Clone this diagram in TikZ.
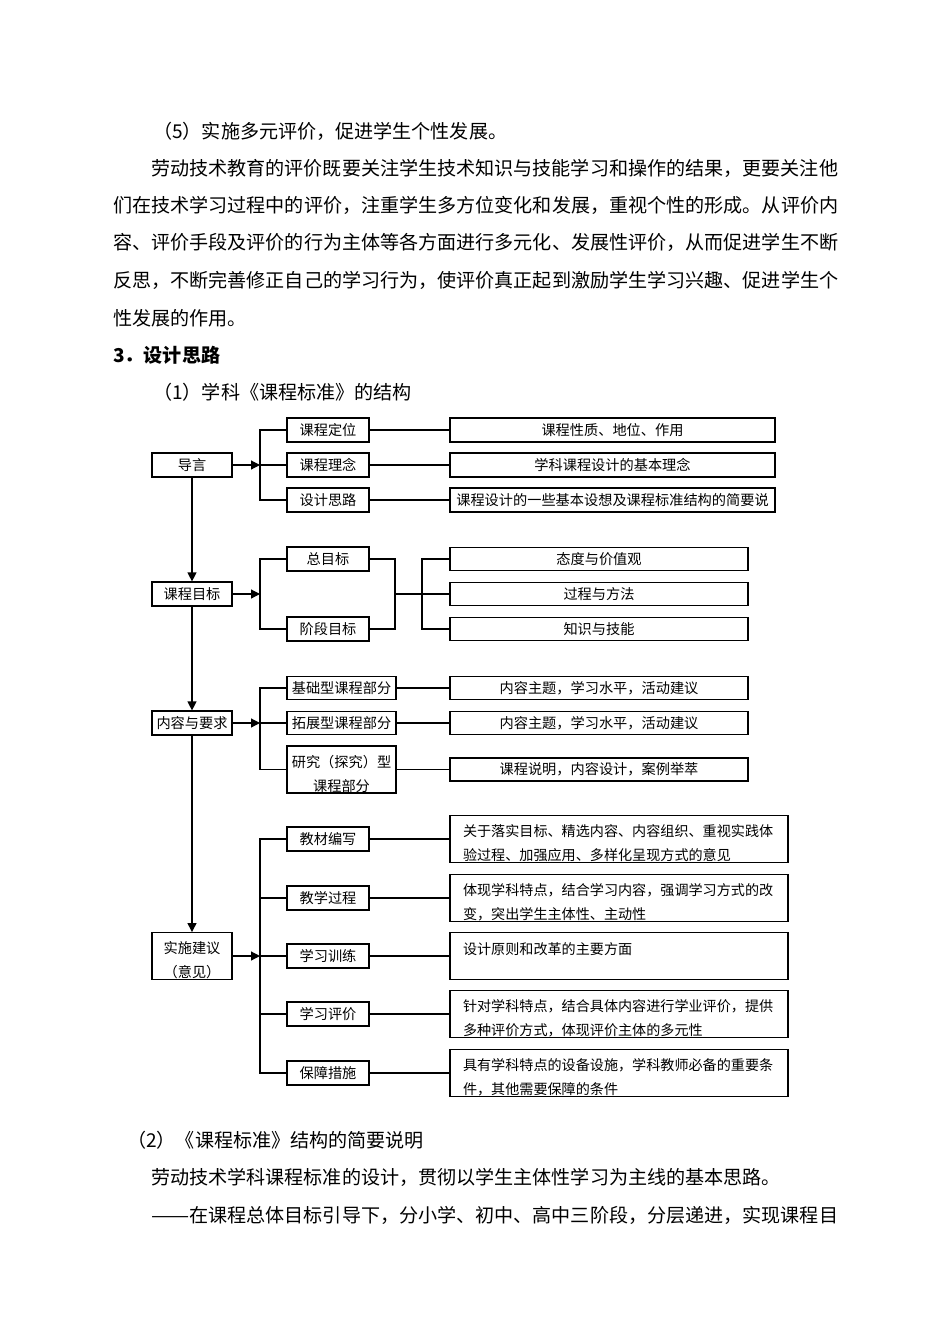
\documentclass[tikz,border=0pt]{standalone}
\usepackage{fontspec}
\usepackage{graphicx}
\setmainfont{Noto Sans CJK SC}
\usetikzlibrary{arrows.meta}
\tikzset{>={Triangle[length=9pt,width=9pt]}}
\newcommand{\topgap}{\rule{0pt}{1.46em}}
\newcommand{\longdash}{\resizebox{2em}{\height}{——}}
\tikzset{
  txt/.style = {anchor=west, inner sep=0, font=\fontsize{19.08}{22}\selectfont},
  box/.style = {draw, line width=1.2pt, inner sep=0, minimum height=24pt, text height=1.05em, text depth=0pt, font=\fontsize{14.2}{16}\selectfont},
  mid/.style = {box, minimum width=80pt},
  sub/.style = {box, minimum width=82pt},
  wide/.style = {box, minimum width=109pt, minimum height=23.5pt},
  rone/.style = {box, minimum width=325pt},
  rtwo/.style = {box, minimum width=298pt, minimum height=23.5pt},
  two/.style = {draw, line width=1.2pt, inner sep=0, align=center, font=\fontsize{14.2}{24}\selectfont},
  note/.style = {draw, line width=1.2pt, inner xsep=13pt, inner ysep=0pt, minimum height=46.7pt, text width=312pt, align=left, font=\fontsize{14.1}{24}\selectfont},
  link/.style = {line width=1.2pt},
}
\begin{document}
\begin{tikzpicture}[x=1pt, y=-1pt]
\useasboundingbox (0,0) rectangle (950,1344);
% text above
\node[txt] (p5) at (153,131) {（5）实施多元评价，促进学生个性发展。};
\node[txt] (l1) at (151,168) {劳动技术教育的评价既要关注学生技术知识与技能学习和操作的结果，更要关注他};
\node[txt] (l2) at (113,205) {们在技术学习过程中的评价，注重学生多方位变化和发展，重视个性的形成。从评价内};
\node[txt] (l3) at (113,242) {容、评价手段及评价的行为主体等各方面进行多元化、发展性评价，从而促进学生不断};
\node[txt] (l4) at (113,280) {反思，不断完善修正自己的学习行为，使评价真正起到激励学生学习兴趣、促进学生个};
\node[txt] (l5) at (113,318) {性发展的作用。};
\node[txt, font=\fontsize{19.08}{22}\selectfont\bfseries] (h3) at (113,355) {3．设计思路};
\node[txt] (p1) at (153,392) {（1）学科《课程标准》的结构};

% main column
\node[mid] (daoyan) at (192,465) {导言};
\node[mid] (mubiao) at (192,594) {课程目标};
\node[mid] (neirong) at (192,723) {内容与要求};
\node[two, minimum width=80pt, minimum height=46.7pt] (shishi) at (192,956) {\topgap 实施建议\\（意见）};
\draw[link,->] (daoyan) -- (mubiao);
\draw[link,->] (mubiao) -- (neirong);
\draw[link,->] (neirong) -- (shishi);

% group 1
\node[sub] (dingwei) at (328,430) {课程定位};
\node[sub] (linian) at (328,465) {课程理念};
\node[sub] (silu) at (328,500) {设计思路};
\node[rone] (dingweiR) at (612.5,430) {课程性质、地位、作用};
\node[rone] (linianR) at (612.5,465) {学科课程设计的基本理念};
\node[rone] (siluR) at (612.5,500) {课程设计的一些基本设想及课程标准结构的简要说};
\coordinate (j1) at (260,465);
\draw[link,->] (daoyan) -- (j1);
\draw[link] (dingwei.west) -| (j1) |- (silu.west);
\draw[link] (j1) -- (linian.west);
\draw[link] (dingwei) -- (dingweiR);
\draw[link] (linian) -- (linianR);
\draw[link] (silu) -- (siluR);

% group 2
\node[sub] (zong) at (328,559) {总目标};
\node[sub] (jieduan) at (328,629) {阶段目标};
\node[rtwo] (taidu) at (599,559) {态度与价值观};
\node[rtwo] (guocheng) at (599,594) {过程与方法};
\node[rtwo] (zhishi) at (599,629) {知识与技能};
\coordinate (j2) at (260,594);
\coordinate (k2) at (395,594);
\coordinate (m2) at (422,594);
\draw[link,->] (mubiao) -- (j2);
\draw[link] (zong.west) -| (j2) |- (jieduan.west);
\draw[link] (zong.east) -| (k2) |- (jieduan.east);
\draw[link] (k2) -- (m2);
\draw[link] (taidu.west) -| (m2) |- (zhishi.west);
\draw[link] (m2) -- (guocheng.west);

% group 3
\node[wide] (jichu) at (341.5,688) {基础型课程部分};
\node[wide] (tuozhan) at (341.5,723) {拓展型课程部分};
\node[two, minimum width=109pt, minimum height=47pt] (yanjiu) at (341.5,769.5) {\topgap 研究（探究）型\\课程部分};
\node[rtwo] (jichuR) at (599,688) {内容主题，学习水平，活动建议};
\node[rtwo] (tuozhanR) at (599,723) {内容主题，学习水平，活动建议};
\node[rtwo, line width=1.8pt] (yanjiuR) at (599,769.5) {课程说明，内容设计，案例举萃};
\coordinate (j3) at (260,723);
\draw[link,->] (neirong) -- (j3);
\draw[link] (jichu.west) -| (j3) |- (yanjiu.west);
\draw[link] (j3) -- (tuozhan.west);
\draw[link] (jichu) -- (jichuR);
\draw[link] (tuozhan) -- (tuozhanR);
\draw[link, line width=1.8pt] (yanjiu) -- (yanjiuR);

% group 4
\node[sub, line width=1.6pt] (jiaocai) at (328,839) {教材编写};
\node[sub] (jiaoxue) at (328,898) {教学过程};
\node[sub] (xunlian) at (328,956) {学习训练};
\node[sub] (pingjia) at (328,1014) {学习评价};
\node[sub] (baozhang) at (328,1073) {保障措施};
\node[note] (jiaocaiR) at (619,839) {\topgap 关于落实目标、精选内容、内容组织、重视实践体\\验过程、加强应用、多样化呈现方式的意见};
\node[note] (jiaoxueR) at (619,898) {\topgap 体现学科特点，结合学习内容，强调学习方式的改\\变，突出学生主体性、主动性};
\node[note] (xunlianR) at (619,956) {\topgap 设计原则和改革的主要方面\\\mbox{}};
\node[note] (pingjiaR) at (619,1014) {\topgap 针对学科特点，结合具体内容进行学业评价，提供\\多种评价方式，体现评价主体的多元性};
\node[note] (baozhangR) at (619,1073) {\topgap 具有学科特点的设备设施，学科教师必备的重要条\\件，其他需要保障的条件};
\coordinate (j4) at (260,956);
\draw[link,->] (shishi) -- (j4);
\draw[link] (jiaocai.west) -| (j4) |- (baozhang.west);
\draw[link] (j4) -- (xunlian.west);
\draw[link] (jiaoxue.west) -- (jiaoxue.west -| j4);
\draw[link] (pingjia.west) -- (pingjia.west -| j4);
\draw[link] (jiaocai) -- (jiaocaiR);
\draw[link] (jiaoxue) -- (jiaoxueR);
\draw[link] (xunlian) -- (xunlianR);
\draw[link] (pingjia) -- (pingjiaR);
\draw[link] (baozhang) -- (baozhangR);

% text below
\node[txt] (p2) at (127,1140) {（2）《课程标准》结构的简要说明};
\node[txt] (b1) at (151,1177) {劳动技术学科课程标准的设计，贯彻以学生主体性学习为主线的基本思路。};
\node[txt] (b2) at (151,1215) {\longdash 在课程总体目标引导下，分小学、初中、高中三阶段，分层递进，实现课程目};
\end{tikzpicture}
\end{document}
